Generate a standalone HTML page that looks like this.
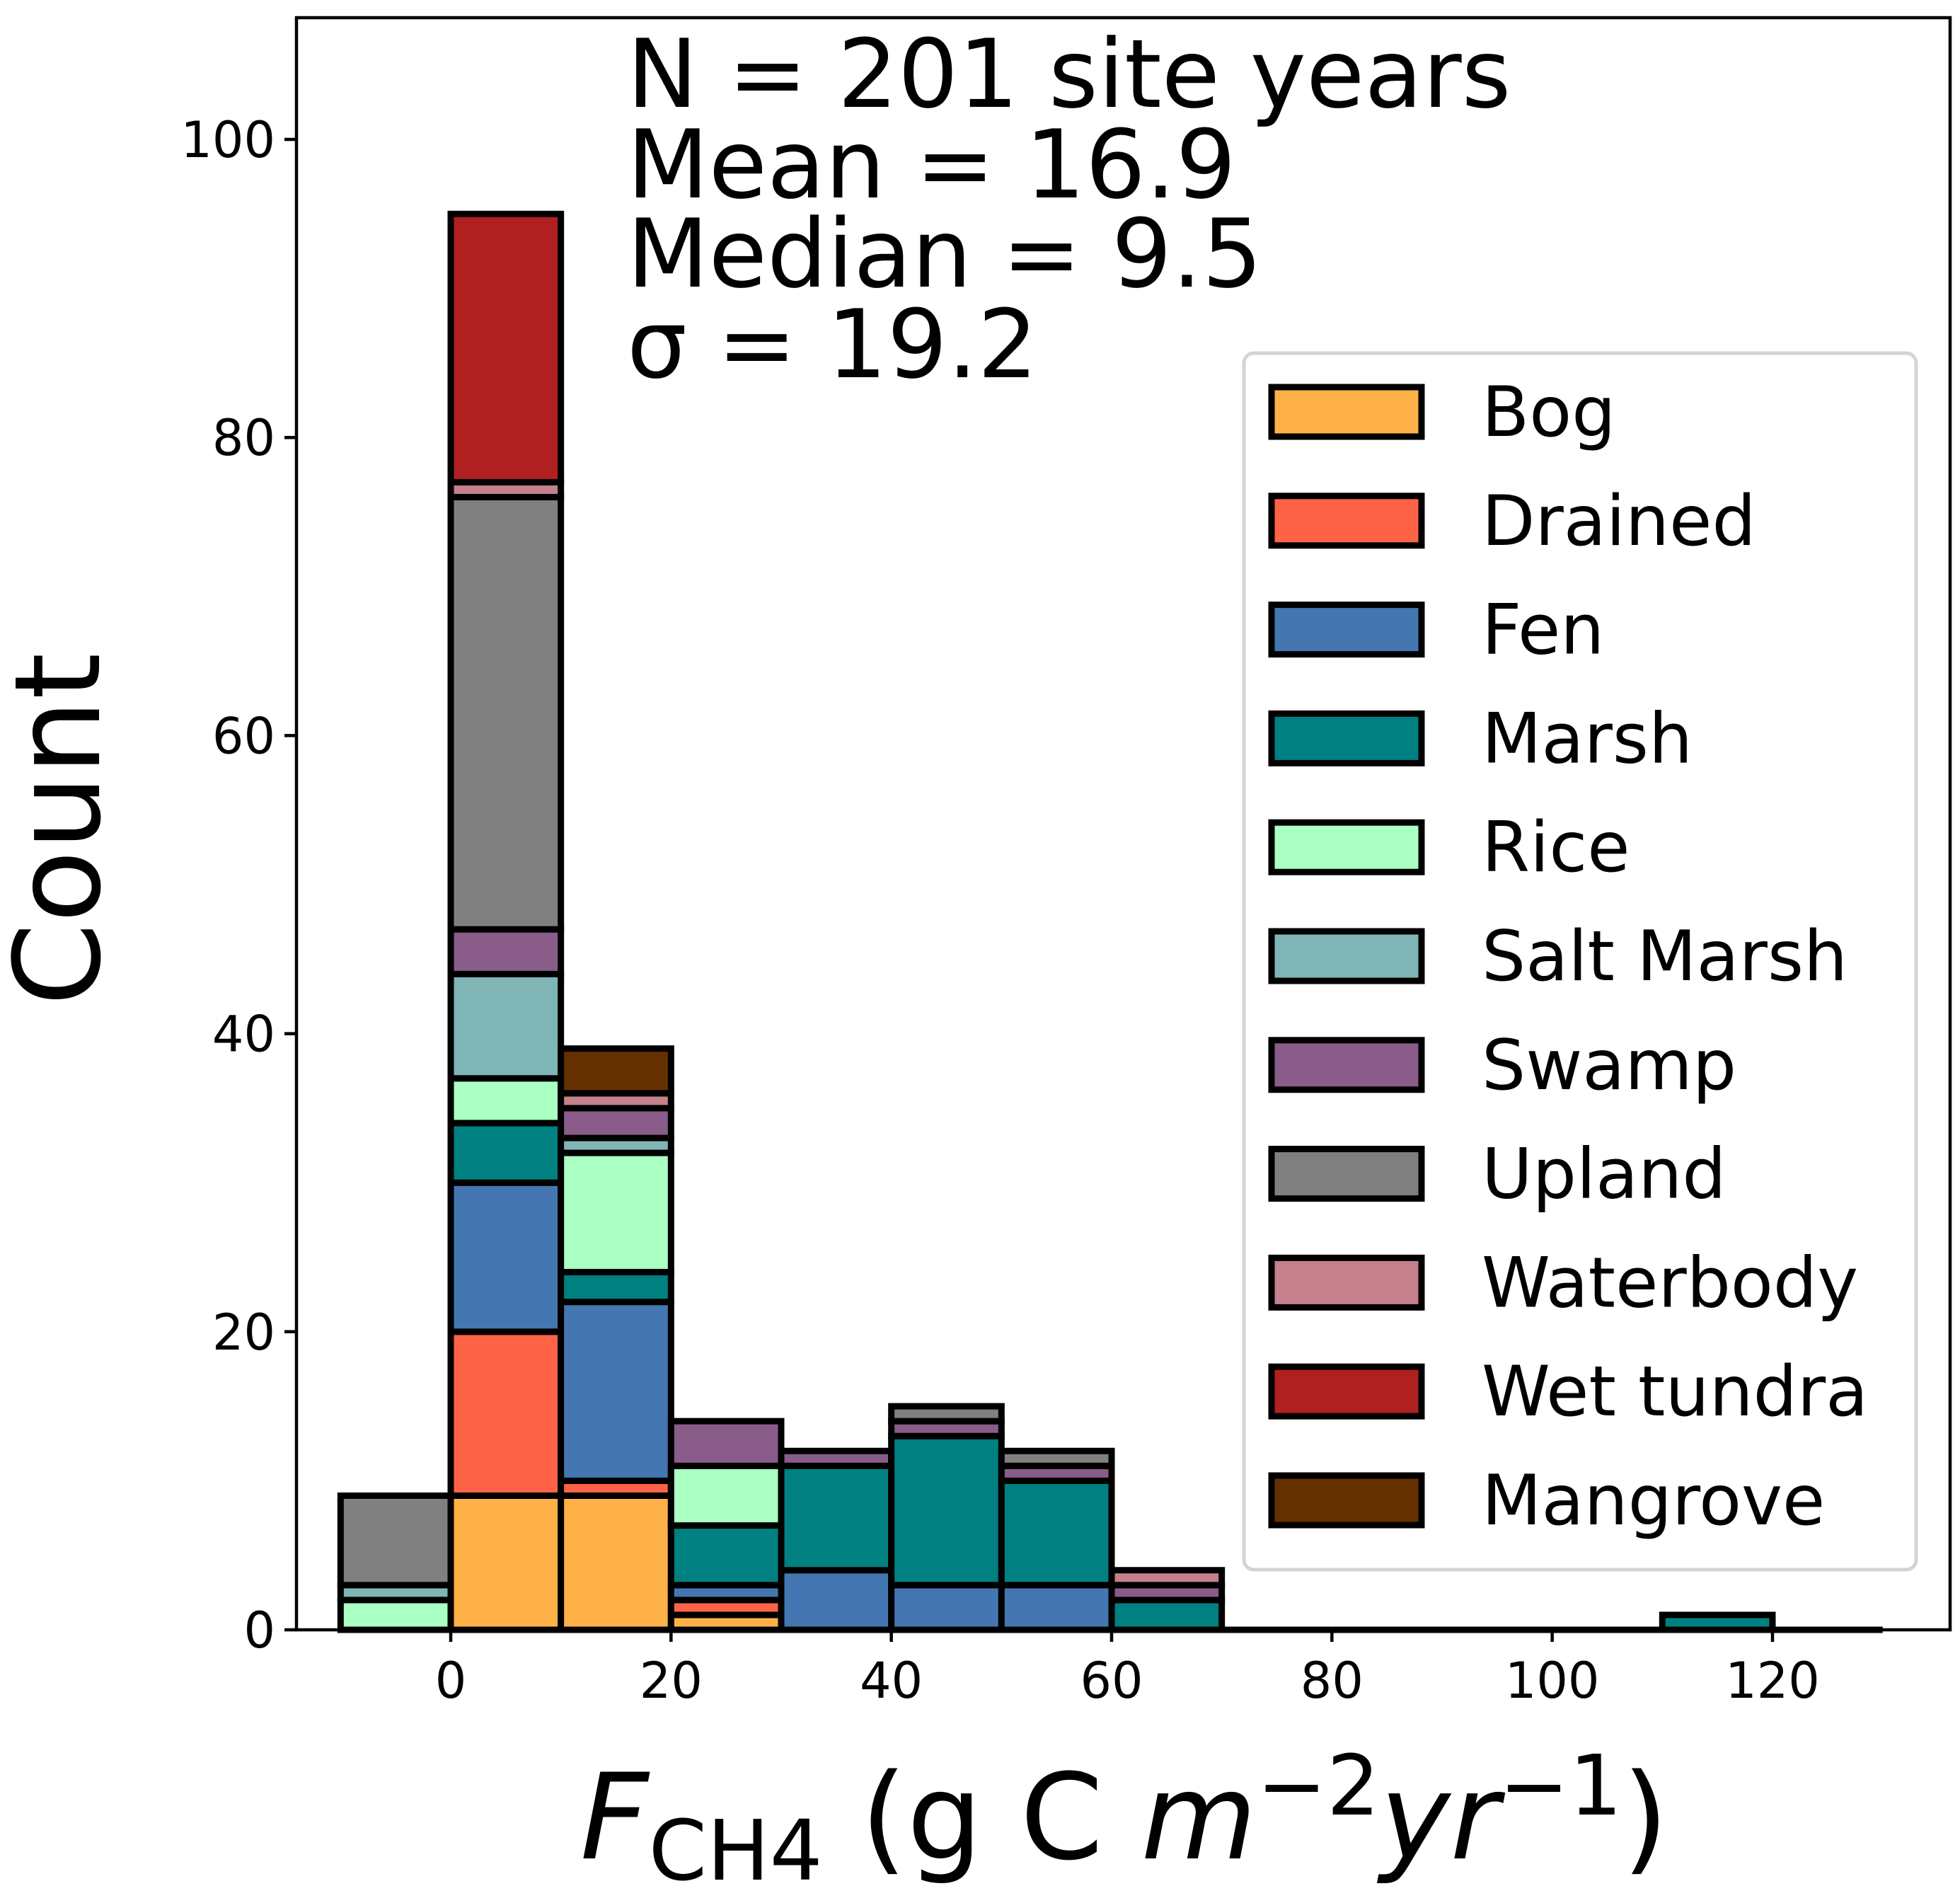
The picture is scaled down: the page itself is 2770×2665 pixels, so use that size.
<!DOCTYPE html>
<html><head><meta charset="utf-8"><style>
html,body{margin:0;padding:0;background:#fff}
svg{display:block;font-family:"DejaVu Sans","Liberation Sans",sans-serif}
</style></head><body>
<svg id="chart" width="2770" height="2665" viewBox="0 0 2770 2665" xmlns="http://www.w3.org/2000/svg">
<rect width="2770" height="2665" fill="#fff"/>
<g id="bars"></g>
<g id="axes"></g>
<g id="legend"></g>
<g font-size="134" fill="#000">
<text x="886" y="151">N = 201 site years</text>
<text x="886" y="279">Mean = 16.9</text>
<text x="886" y="405">Median = 9.5</text>
<text x="886" y="533">σ = 19.2</text>
</g>
<text font-size="168" transform="translate(140,1172) rotate(-90)" text-anchor="middle">Count</text>
<text font-size="168" x="1589" y="2626" text-anchor="middle"><tspan font-style="italic">F</tspan><tspan font-size="118" dy="30">CH4</tspan><tspan dy="-30"> (g C </tspan><tspan font-style="italic">m</tspan><tspan font-size="118" dy="-62">−2</tspan><tspan font-style="italic" dy="62">yr</tspan><tspan font-size="118" dy="-62">−1</tspan><tspan dy="62">)</tspan></text>
</svg>
<script>
const binEdges = [-10,0,10,20,30,40,50,60,70,80,90,100,110,120,130];
const categories = ["Bog","Drained","Fen","Marsh","Rice","Salt Marsh","Swamp","Upland","Waterbody","Wet tundra","Mangrove"];
const colors = ["#fdb147","#ff6347","#4477b2","#008080","#aaffc3","#80b5b5","#895c89","#808080","#c4808c","#b02020","#653000"];
const bog       = [0,9,9,1,0,0,0,0,0,0,0,0,0,0];
const drained   = [0,11,1,1,0,0,0,0,0,0,0,0,0,0];
const fen       = [0,10,12,1,4,3,3,0,0,0,0,0,0,0];
const marsh     = [0,4,2,4,7,10,7,2,0,0,0,0,1,0];
const rice      = [2,3,8,4,0,0,0,0,0,0,0,0,0,0];
const saltMarsh = [1,7,1,0,0,0,0,0,0,0,0,0,0,0];
const swamp     = [0,3,2,3,1,1,1,1,0,0,0,0,0,0];
const upland    = [6,29,0,0,0,1,1,0,0,0,0,0,0,0];
const waterbody = [0,1,1,0,0,0,0,1,0,0,0,0,0,0];
const wetTundra = [0,18,0,0,0,0,0,0,0,0,0,0,0,0];
const mangrove  = [0,0,3,0,0,0,0,0,0,0,0,0,0,0];
const series = [bog,drained,fen,marsh,rice,saltMarsh,swamp,upland,waterbody,wetTundra,mangrove];
const xTicks = [0,20,40,60,80,100,120];
const yTicks = [0,20,40,60,80,100];

const NS="http://www.w3.org/2000/svg";
const L=419,R=2756,T=25,B=2303;
const X0=637, XU=(2505-637)/120;
const YU=(2303-197)/100;
const xs=v=>X0+v*XU, ys=v=>B-v*YU;
function mk(tag,attrs,parent){const e=document.createElementNS(NS,tag);for(const k in attrs)e.setAttribute(k,attrs[k]);parent.appendChild(e);return e;}
const bars=document.getElementById('bars');
const LW=9;
for(let i=0;i<binEdges.length-1;i++){
  let base=0;
  const x1=xs(binEdges[i]),x2=xs(binEdges[i+1]);
  for(let s=0;s<series.length;s++){
    const v=series[s][i];
    if(v===0) continue;
    const r=mk('rect',{x:x1,y:ys(base+v),width:x2-x1,height:ys(base)-ys(base+v),fill:colors[s],stroke:'#000','stroke-width':LW},bars);
    
    
    base+=v;
  }
  if(base===0){
    const z=mk('line',{x1:x1,x2:x2,y1:B,y2:B,stroke:'#000','stroke-width':LW},bars);
    
    
  }
}
const ax=document.getElementById('axes');
const frame=mk('rect',{x:L,y:T,width:R-L,height:B-T,fill:'none',stroke:'#000','stroke-width':4.5},ax);


xTicks.forEach(v=>{
  const l=mk('line',{x1:xs(v),x2:xs(v),y1:B,y2:B+17,stroke:'#000','stroke-width':4.5},ax);
  
  
  const t=mk('text',{x:xs(v),y:B+96,'text-anchor':'middle','font-size':70},ax);
  t.textContent=v;
  
  
});
yTicks.forEach(v=>{
  const l=mk('line',{x1:L-17,x2:L,y1:ys(v),y2:ys(v),stroke:'#000','stroke-width':4.5},ax);
  
  
  const t=mk('text',{x:L-30,y:ys(v)+25,'text-anchor':'end','font-size':70},ax);
  t.textContent=v;
  
  
});
const lg=document.getElementById('legend');
const box=mk('rect',{x:1758,y:499,width:950,height:1719,rx:14,fill:'#fff',stroke:'#d4d4d4','stroke-width':5},lg);


categories.forEach((c,i)=>{
  const cy=582+i*153.8;
  const r=mk('rect',{x:1797,y:cy-35,width:212,height:70,fill:colors[i],stroke:'#000','stroke-width':LW},lg);
  
  
  const t=mk('text',{x:2094,y:cy+34,'font-size':98},lg);
  t.textContent=c;
  
  
});
</script>
</body></html>
